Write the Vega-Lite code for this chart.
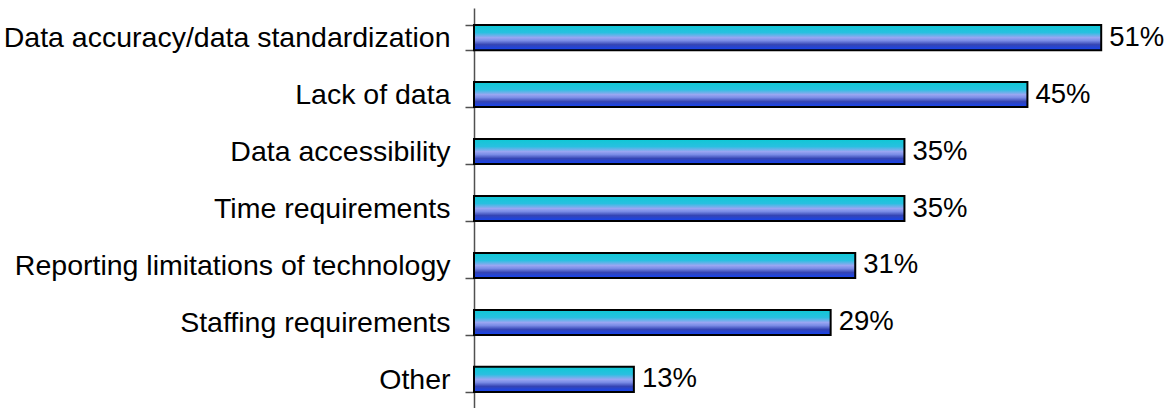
{
  "$schema": "https://vega.github.io/schema/vega-lite/v6.json",
  "autosize": {"type": "none"},
  "width": 701,
  "height": 401,
  "padding": {"left": 474, "top": 8, "right": 1, "bottom": 0},
  "background": "white",
  "config": {"view": {"stroke": null}, "font": "Liberation Sans"},
  "data": {
    "values": [
      {"category": "Data accuracy/data standardization", "value": 0.51},
      {"category": "Lack of data", "value": 0.45},
      {"category": "Data accessibility", "value": 0.35},
      {"category": "Time requirements", "value": 0.35},
      {"category": "Reporting limitations of technology", "value": 0.31},
      {"category": "Staffing requirements", "value": 0.29},
      {"category": "Other", "value": 0.13}
    ]
  },
  "encoding": {
    "y": {
      "field": "category",
      "type": "nominal",
      "sort": null,
      "scale": {"paddingInner": 0.56, "paddingOuter": 0.3},
      "axis": {
        "title": null,
        "tickBand": "extent",
        "tickSize": 9,
        "tickColor": "#505050",
        "tickWidth": 1.5,
        "domainColor": "#505050",
        "domainWidth": 1.5,
        "labelPadding": 15,
        "labelFontSize": 28.5,
        "labelColor": "black",
        "labelFont": "Liberation Sans",
        "labelLimit": 600
      }
    },
    "x": {
      "field": "value",
      "type": "quantitative",
      "scale": {"domain": [0, 0.57], "nice": false},
      "axis": null
    }
  },
  "layer": [
    {
      "mark": {
        "type": "bar",
        "stroke": "black",
        "strokeWidth": 2,
        "color": {
          "gradient": "linear",
          "x1": 0, "y1": 0, "x2": 0, "y2": 1,
          "stops": [
            {"offset": 0, "color": "#0ec8d4"},
            {"offset": 0.3, "color": "#28c0e0"},
            {"offset": 0.5, "color": "#9aa6f2"},
            {"offset": 0.62, "color": "#7a8ce6"},
            {"offset": 0.78, "color": "#3444b4"},
            {"offset": 1, "color": "#1444f4"}
          ]
        }
      }
    },
    {
      "mark": {
        "type": "text",
        "align": "left",
        "baseline": "middle",
        "dx": 8,
        "fontSize": 27.5,
        "font": "Liberation Sans",
        "color": "black"
      },
      "encoding": {
        "text": {"field": "value", "type": "quantitative", "format": ".0%"}
      }
    }
  ]
}
